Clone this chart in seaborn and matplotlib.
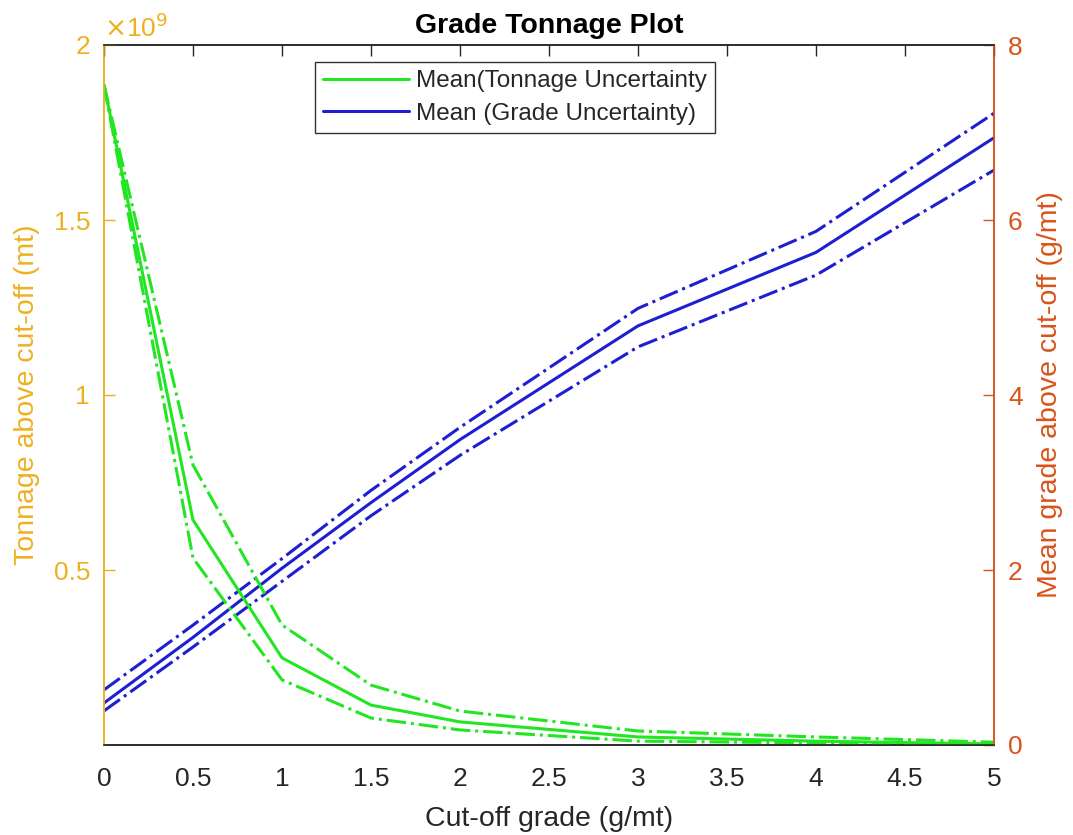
import numpy as np
import pandas as pd
import matplotlib
matplotlib.use("Agg")
import matplotlib.pyplot as plt
import seaborn as sns

# ---- data ----
cutoff = [0, 0.5, 1, 1.5, 2, 3, 4, 5]
tonnage_mean = [1.886e9, 0.643e9, 0.249e9, 0.114e9, 0.066e9, 0.023e9, 0.011e9, 0.003e9]
tonnage_upper = [1.886e9, 0.800e9, 0.343e9, 0.171e9, 0.097e9, 0.040e9, 0.023e9, 0.008e9]
tonnage_lower = [1.886e9, 0.534e9, 0.186e9, 0.077e9, 0.043e9, 0.011e9, 0.006e9, 0.001e9]
grade_mean = [0.48, 1.23, 2.02, 2.77, 3.49, 4.79, 5.63, 6.94]
grade_upper = [0.63, 1.37, 2.13, 2.91, 3.63, 4.99, 5.87, 7.22]
grade_lower = [0.39, 1.12, 1.87, 2.62, 3.31, 4.55, 5.37, 6.57]
xticks = [0, 0.5, 1, 1.5, 2, 2.5, 3, 3.5, 4, 4.5, 5]
xtick_labels = ["0", "0.5", "1", "1.5", "2", "2.5", "3", "3.5", "4", "4.5", "5"]
left_ticks = [0.5e9, 1.0e9, 1.5e9, 2.0e9]
left_tick_labels = ["0.5", "1", "1.5", "2"]
right_ticks = [0, 2, 4, 6, 8]
legend_labels = ["Mean(Tonnage Uncertainty", "Mean (Grade Uncertainty)"]

sns.set_style("white")
plt.rcParams['font.family'] = ['Liberation Sans', 'DejaVu Sans']

LEFT_C = "#EDB120"
RIGHT_C = "#D95319"
GREEN = "#22E622"
BLUE = "#1E1ED2"
AX_C = "#262626"

fig = plt.figure(figsize=(10.73, 8.35), dpi=100)
ax = fig.add_axes([104/1073, 1-745/835, (994-104)/1073, (745-45)/835])
ax2 = ax.twinx()

df_t = pd.DataFrame({"x": cutoff, "mean": tonnage_mean, "up": tonnage_upper, "lo": tonnage_lower})
df_g = pd.DataFrame({"x": cutoff, "mean": grade_mean, "up": grade_upper, "lo": grade_lower})

lw = 2.2
sns.lineplot(data=df_t, x="x", y="mean", ax=ax, color=GREEN, lw=lw, label=legend_labels[0])
sns.lineplot(data=df_t, x="x", y="up", ax=ax, color=GREEN, lw=lw, linestyle="-.")
sns.lineplot(data=df_t, x="x", y="lo", ax=ax, color=GREEN, lw=lw, linestyle="-.")

sns.lineplot(data=df_g, x="x", y="mean", ax=ax2, color=BLUE, lw=lw, label=legend_labels[1])
sns.lineplot(data=df_g, x="x", y="up", ax=ax2, color=BLUE, lw=lw, linestyle="-.")
sns.lineplot(data=df_g, x="x", y="lo", ax=ax2, color=BLUE, lw=lw, linestyle="-.")

ax.set_xlim(0, 5)
ax.set_ylim(0, 2e9)
ax2.set_ylim(0, 8)

ax.set_xticks(xticks)
ax.set_xticklabels(xtick_labels)
ax.set_yticks(left_ticks)
ax.set_yticklabels(left_tick_labels)
ax2.set_yticks(right_ticks)
ax2.set_yticklabels([str(t) for t in right_ticks])

fs = 19
ax.tick_params(axis='x', direction='in', length=8, width=1, colors=AX_C, labelsize=fs, top=True, pad=16)
ax.tick_params(axis='y', direction='in', length=8, width=1, colors=LEFT_C, labelsize=fs, pad=10)
ax2.tick_params(axis='y', direction='in', length=8, width=1, colors=RIGHT_C, labelsize=fs, pad=10)
ax2.tick_params(axis='x', top=False, bottom=False)

for a in (ax, ax2):
    for s in a.spines.values():
        s.set_linewidth(1.1)
    a.spines['top'].set_color(AX_C)
    a.spines['bottom'].set_color(AX_C)
    a.spines['left'].set_color(LEFT_C)
    a.spines['right'].set_color(RIGHT_C)

ax.set_xlabel("Cut-off grade (g/mt)", fontsize=20.5, color=AX_C, labelpad=11)
ax.set_ylabel("Tonnage above cut-off (mt)", fontsize=20.5, color=LEFT_C, labelpad=10)
ax2.set_ylabel("Mean grade above cut-off (g/mt)", fontsize=20.5, color=RIGHT_C, labelpad=10)
ax.set_title("Grade Tonnage Plot", fontsize=20.5, fontweight="bold", color="black", pad=9)

ax.text(0.0, 1.004, r"$\times$10$^9$", transform=ax.transAxes, fontsize=19,
        color=LEFT_C, ha="left", va="bottom")

h1, l1 = ax.get_legend_handles_labels()
h2, l2 = ax2.get_legend_handles_labels()
if ax2.get_legend() is not None:
    ax2.get_legend().remove()
leg = ax.legend(h1 + h2, l1 + l2, loc="upper left", bbox_to_anchor=(0.237, 0.976),
                fontsize=17.5, frameon=True, fancybox=False, edgecolor="black",
                handlelength=3.5, borderpad=0.35, labelspacing=0.42, handletextpad=0.3,
                borderaxespad=0.0)
leg.get_frame().set_linewidth(1.0)
ax.set_zorder(ax2.get_zorder() + 1)
ax.patch.set_visible(False)

fig.savefig("out.png", dpi=100)
